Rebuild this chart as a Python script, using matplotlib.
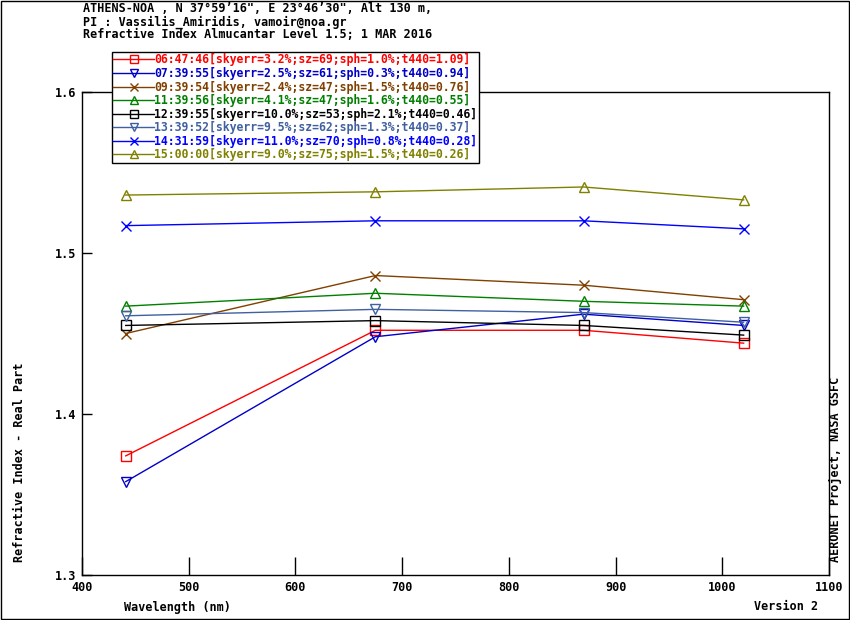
import numpy as np
import matplotlib
matplotlib.use("Agg")
import matplotlib.pyplot as plt
from matplotlib.patches import Rectangle

# wavelengths (nm)
wavelength = [441, 675, 870, 1020]

# real part of refractive index, one list per almucantar
n_0647 = [1.374, 1.452, 1.452, 1.444]
n_0739 = [1.358, 1.448, 1.462, 1.455]
n_0939 = [1.450, 1.486, 1.480, 1.471]
n_1139 = [1.467, 1.475, 1.470, 1.467]
n_1239 = [1.455, 1.458, 1.455, 1.449]
n_1339 = [1.461, 1.465, 1.463, 1.457]
n_1431 = [1.517, 1.520, 1.520, 1.515]
n_1500 = [1.536, 1.538, 1.541, 1.533]

labels = [
    "06:47:46[skyerr=3.2%;sz=69;sph=1.0%;t440=1.09]",
    "07:39:55[skyerr=2.5%;sz=61;sph=0.3%;t440=0.94]",
    "09:39:54[skyerr=2.4%;sz=47;sph=1.5%;t440=0.76]",
    "11:39:56[skyerr=4.1%;sz=47;sph=1.6%;t440=0.55]",
    "12:39:55[skyerr=10.0%;sz=53;sph=2.1%;t440=0.46]",
    "13:39:52[skyerr=9.5%;sz=62;sph=1.3%;t440=0.37]",
    "14:31:59[skyerr=11.0%;sz=70;sph=0.8%;t440=0.28]",
    "15:00:00[skyerr=9.0%;sz=75;sph=1.5%;t440=0.26]",
]
series = [n_0647, n_0739, n_0939, n_1139, n_1239, n_1339, n_1431, n_1500]
colors = ["#ff0000", "#0000c8", "#804000", "#008000", "#000000",
          "#4060a0", "#0000ff", "#808000"]
markers = ["s", "v", "x", "^", "s", "v", "x", "^"]

font = ["DejaVu Sans Mono"]
fs = 8.5

fig = plt.figure(figsize=(8.5, 6.2), dpi=100)
ax = fig.add_axes([82 / 850, 45 / 620, 747 / 850, 483 / 620])

for y, c, m, lab in zip(series, colors, markers, labels):
    ax.plot(wavelength, y, color=c, lw=1, marker=m, ms=7.5,
            mfc="none", mec=c, mew=1, label=lab)

ax.set_xlim(400, 1100)
ax.set_ylim(1.3, 1.6)
ax.set_xticks(np.arange(400, 1101, 100))
ax.set_yticks([1.3, 1.4, 1.5, 1.6])
ax.set_yticklabels(["1.3", "1.4", "1.5", "1.6"])
ax.tick_params(axis="x", direction="in", length=13, width=1, pad=4,
               labelsize=fs)
ax.tick_params(axis="y", direction="in", length=7, width=1, pad=4,
               labelsize=fs)
for lab in ax.get_xticklabels() + ax.get_yticklabels():
    lab.set_family(font)
    lab.set_weight("bold")
for s in ax.spines.values():
    s.set_linewidth(1)

leg = fig.legend(loc="upper left", bbox_to_anchor=(112 / 850, 1 - 52 / 620),
                 borderaxespad=0, borderpad=0.12, labelspacing=0.05,
                 handlelength=3.55, handletextpad=0.0, frameon=True,
                 fancybox=False, edgecolor="black", framealpha=1,
                 markerscale=0.85,
                 prop={"family": font, "size": 8.3, "weight": "bold"})
leg.get_frame().set_linewidth(1)
for txt, c in zip(leg.get_texts(), colors):
    txt.set_color(c)

title = ["ATHENS-NOA , N 37\u00b059\u201916\", E 23\u00b046\u201930\", Alt 130 m,",
         "PI : Vassilis_Amiridis, vamoir@noa.gr",
         "Refractive Index Almucantar Level 1.5; 1 MAR 2016"]
for i, t in enumerate(title):
    fig.text(83 / 850, 1 - (9 + 13 * i) / 620, t, family=font, size=fs,
             weight="bold", va="center", ha="left")

fig.text(124 / 850, 1 - 607 / 620, "Wavelength (nm)", family=font, size=fs,
         weight="bold", va="center", ha="left")
fig.text(818 / 850, 1 - 607 / 620, "Version 2", family=font, size=fs,
         weight="bold", va="center", ha="right")
fig.text(20 / 850, 1 - 562 / 620, "Refractive Index - Real Part", family=font,
         size=fs, weight="bold", rotation=90, va="bottom", ha="center")
fig.text(836 / 850, 1 - 562 / 620, "AERONET Project, NASA GSFC", family=font,
         size=fs, weight="bold", rotation=90, va="bottom", ha="center")

fig.patches.append(Rectangle((0.001, 0.001), 0.998, 0.998, transform=fig.transFigure,
                             fill=False, edgecolor="black", lw=1))

fig.savefig("out.png", dpi=100)
